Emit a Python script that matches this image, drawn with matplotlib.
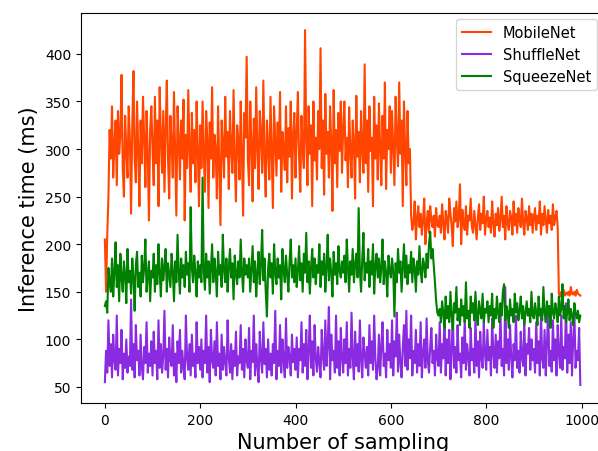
#!/usr/bin/env python3

import numpy as np
import matplotlib.pyplot as plt

# one reading every 2.5 samples
step = 2.5

mobilenet = [
    205, 150, 210, 250, 320, 290, 345, 270, 305, 330, 262, 340, 295, 315, 378, 280, 250, 335, 300, 270,
    345, 310, 232, 325, 382, 290, 265, 350, 300, 240, 330, 285, 355, 310, 260, 340, 295, 225, 320, 345,
    300, 262, 355, 285, 330, 240, 365, 310, 275, 340, 255, 320, 372, 290, 248, 335, 305, 270, 360, 295,
    230, 345, 310, 268, 330, 290, 352, 225, 315, 280, 362, 300, 255, 338, 285, 320, 265, 350, 298, 240,
    325, 280, 350, 295, 255, 340, 310, 238, 328, 290, 365, 270, 315, 300, 248, 345, 285, 220, 330, 305,
    270, 355, 292, 318, 258, 340, 300, 275, 362, 288, 245, 325, 310, 268, 350, 295, 230, 338, 312, 397,
    290, 262, 350, 305, 245, 332, 280, 365, 300, 258, 340, 315, 275, 372, 288, 250, 330, 302, 268, 355,
    296, 238, 345, 310, 272, 328, 290, 360, 255, 318, 300, 278, 345, 265, 322, 292, 350, 248, 315, 338,
    270, 318, 360, 290, 255, 335, 300, 280, 425, 310, 262, 345, 295, 325, 240, 350, 288, 312, 268, 340,
    300, 406, 280, 330, 252, 358, 295, 318, 270, 345, 305, 235, 362, 285, 320, 260, 338, 298, 350, 275,
    322, 350, 288, 312, 260, 344, 298, 270, 330, 305, 248, 356, 292, 318, 265, 340, 300, 275, 389, 285,
    330, 255, 345, 298, 312, 240, 355, 290, 325, 268, 348, 302, 262, 335, 290, 370, 258, 320, 300, 345,
    275, 340, 300, 262, 355, 310, 282, 370, 295, 330, 240, 350, 300, 262, 340, 285, 300, 230, 215, 222,
    245, 205, 228, 240, 218, 232, 210, 225, 248, 200, 222, 235, 212, 240, 226, 218, 230, 208, 238, 220,
    218, 230, 212, 242, 222, 205, 235, 226, 212, 248, 232, 220, 198, 238, 224, 245, 218, 228, 263, 200,
    236, 222, 215, 240, 210, 230, 225, 248, 218, 212, 235, 220, 205, 228, 242, 215, 232, 222, 250, 210,
    226, 235, 218, 228, 212, 245, 222, 208, 232, 220, 238, 214, 226, 250, 218, 230, 205, 240, 222, 215,
    235, 228, 210, 245, 220, 232, 212, 238, 225, 218, 248, 222, 210, 235, 228, 215, 240, 220, 232, 212,
    228, 238, 215, 230, 222, 245, 210, 232, 220, 240, 225, 212, 236, 222, 230, 215, 242, 220, 228, 235,
    218, 148, 145, 150, 147, 152, 146, 149, 147, 150, 146, 155, 148, 147, 150, 146, 152, 148, 147, 146,
]

shufflenet = [
    55, 88, 65, 120, 72, 95, 60, 105, 78, 68, 125, 62, 90, 75, 110, 58, 85, 70, 100, 65,
    82, 72, 142, 68, 95, 60, 115, 78, 88, 62, 105, 70, 58, 92, 75, 118, 65, 85, 72, 98,
    62, 108, 75, 88, 58, 120, 70, 95, 65, 82, 130, 68, 90, 60, 102, 78, 72, 115, 62, 85,
    55, 98, 75, 110, 65, 88, 70, 58, 125, 80, 68, 95, 62, 105, 72, 85, 60, 118, 75, 92,
    68, 100, 60, 88, 75, 125, 65, 92, 55, 110, 78, 70, 98, 62, 118, 72, 85, 58, 105, 68,
    92, 75, 62, 120, 80, 65, 95, 58, 88, 72, 108, 62, 82, 75, 115, 68, 90, 60, 100, 78,
    70, 112, 58, 88, 76, 125, 62, 95, 72, 55, 108, 80, 65, 118, 74, 90, 60, 100, 68, 85,
    62, 95, 75, 130, 58, 88, 72, 115, 65, 100, 78, 60, 122, 70, 92, 82, 62, 105, 76, 90,
    68, 102, 60, 90, 78, 118, 65, 95, 72, 110, 58, 88, 125, 70, 98, 62, 115, 80, 66, 92,
    75, 60, 110, 82, 68, 120, 72, 95, 134, 58, 105, 78, 88, 65, 125, 70, 98, 62, 112, 80,
    65, 100, 75, 118, 62, 90, 70, 128, 80, 58, 108, 72, 95, 66, 120, 78, 60, 102, 85, 70,
    92, 62, 115, 75, 98, 68, 125, 80, 58, 70, 105, 62, 92, 118, 72, 85, 60, 110, 78, 95,
    70, 120, 62, 98, 82, 128, 66, 105, 75, 60, 92, 115, 72, 130, 68, 100, 80, 125, 62, 88,
    75, 110, 65, 95, 72, 118, 60, 85, 100, 70, 122, 78, 65, 92, 112, 75, 88, 62, 105, 80,
    72, 118, 65, 95, 80, 125, 62, 100, 75, 110, 58, 88, 128, 70, 92, 65, 115, 78, 85, 60,
    102, 75, 120, 68, 95, 82, 62, 112, 78, 90, 65, 125, 72, 98, 60, 108, 80, 70, 118, 85,
    68, 110, 78, 92, 62, 122, 85, 70, 105, 65, 98, 80, 128, 72, 90, 62, 155, 75, 100, 68,
    115, 82, 60, 95, 78, 125, 70, 88, 65, 108, 80, 72, 120, 62, 95, 85, 112, 68, 100, 78,
    90, 65, 118, 75, 98, 62, 128, 80, 70, 110, 62, 95, 135, 72, 88, 66, 120, 78, 100, 62,
    115, 85, 70, 125, 68, 92, 80, 138, 65, 105, 75, 118, 62, 98, 130, 70, 88, 78, 112, 52,
]

squeezenet = [
    135, 140, 128, 175, 160, 150, 185, 145, 170, 202, 155, 178, 140, 190, 165, 150, 182, 168, 138, 195,
    160, 172, 148, 185, 165, 130, 178, 192, 155, 170, 145, 188, 160, 175, 205, 150, 168, 182, 140, 172,
    165, 190, 150, 178, 158, 200, 170, 145, 185, 162, 175, 195, 150, 180, 168, 155, 190, 172, 140, 182,
    160, 210, 170, 148, 185, 165, 178, 155, 192, 168, 180, 150, 239, 175, 160, 188, 170, 145, 182, 165,
    178, 160, 270, 170, 152, 190, 165, 182, 148, 175, 200, 160, 185, 170, 145, 192, 168, 178, 155, 210,
    172, 160, 185, 150, 175, 195, 165, 180, 142, 188, 170, 158, 182, 165, 205, 172, 150, 185, 168, 178,
    165, 185, 150, 175, 198, 160, 182, 145, 170, 192, 158, 178, 215, 162, 185, 150, 124, 175, 190, 165,
    180, 148, 200, 170, 158, 185, 165, 178, 142, 195, 172, 160, 188, 168, 150, 182, 205, 165, 178, 160,
    185, 155, 172, 198, 162, 180, 150, 190, 170, 212, 160, 182, 148, 175, 195, 165, 185, 158, 178, 170,
    200, 155, 182, 168, 190, 150, 175, 210, 162, 185, 170, 145, 192, 168, 180, 158, 198, 172, 165, 182,
    170, 188, 160, 205, 175, 150, 182, 168, 195, 160, 178, 190, 165, 238, 172, 150, 185, 212, 162, 180,
    170, 195, 155, 182, 168, 200, 148, 178, 190, 165, 185, 160, 175, 205, 158, 182, 170, 145, 188, 172,
    165, 185, 172, 124, 180, 160, 195, 170, 182, 150, 175, 200, 165, 188, 158, 178, 170, 192, 160, 185,
    175, 150, 182, 168, 198, 172, 160, 185, 178, 165, 190, 175, 200, 213, 185, 195, 178, 160, 140, 128,
    125, 132, 118, 140, 128, 112, 145, 122, 135, 118, 150, 125, 110, 138, 128, 155, 120, 132, 115, 142,
    125, 135, 118, 160, 122, 130, 112, 145, 128, 138, 120, 150, 125, 115, 140, 130, 122, 148, 118, 132,
    128, 140, 118, 135, 125, 148, 112, 132, 122, 145, 128, 118, 138, 125, 150, 158, 120, 135, 128, 112,
    142, 125, 132, 118, 148, 128, 138, 120, 130, 145, 122, 135, 115, 128, 140, 125, 132, 118, 150, 125,
    122, 138, 128, 115, 145, 125, 132, 120, 155, 128, 118, 140, 125, 135, 112, 148, 128, 122, 138, 130,
    118, 145, 125, 132, 158, 122, 135, 118, 128, 142, 120, 132, 125, 115, 138, 128, 122, 130, 118, 125,
]


def plot(output_file):
    fig = plt.figure(figsize=(5.98, 4.52), dpi=100)
    # axes run a little past the right edge of the canvas
    ax = fig.add_axes([0.1355, 0.106, 0.876, 0.863])

    for values, color, label in [(mobilenet, 'orangered', 'MobileNet'),
                                 (shufflenet, 'blueviolet', 'ShuffleNet'),
                                 (squeezenet, 'green', 'SqueezeNet')]:
        x = np.arange(len(values)) * step
        ax.plot(x, values, color=color, linewidth=1.5, label=label)

    ax.set_xticks(np.arange(0, 1001, 200))
    ax.set_yticks(np.arange(50, 401, 50))
    ax.set_xlim(-50, 1049)
    ax.set_ylim(33, 443)

    ax.set_xlabel('Number of sampling', fontsize=15)
    ax.set_ylabel('Inference time (ms)', fontsize=15)

    # legend pinned against the visible right edge
    ax.legend(loc='upper right', bbox_to_anchor=(597 / 598.0, 1 - 20 / 452.0),
              bbox_transform=fig.transFigure, fontsize=10.5, borderaxespad=0)

    fig.savefig(output_file, dpi=100)


def main():
    plot('out.png')


if __name__ == '__main__':
    main()
